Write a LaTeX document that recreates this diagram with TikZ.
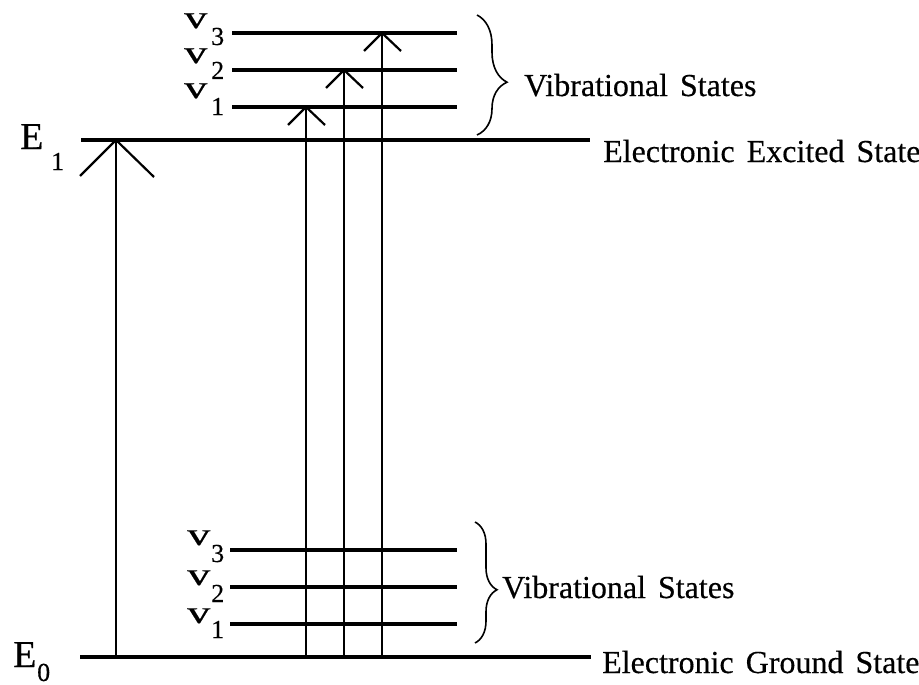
\documentclass[tikz,border=0pt]{standalone}
\usepackage{fontspec}
\usepackage{graphicx}
\setmainfont{Liberation Serif}[WordSpace=1.5, FakeBold=0.4]
\usetikzlibrary{decorations.pathreplacing}
\newcommand{\vsym}{\scalebox{1.45}[1]{v}}
\begin{document}
\begin{tikzpicture}[x=1pt,y=-1pt,
  level/.style={line width=3.6pt},
  shaft/.style={line width=1.7pt},
  barb/.style={line width=2.2pt},
  bracestyle/.style={line width=1.6pt, decorate},
  txt/.style={inner sep=0pt, anchor=base west, font=\fontsize{32}{36}\selectfont},
  bigE/.style={inner sep=0pt, anchor=base west, font=\fontsize{38}{40}\selectfont},
  subs/.style={inner sep=0pt, anchor=base west, font=\fontsize{26}{28}\selectfont},
  vlab/.style={inner sep=0pt, anchor=base west, font=\fontsize{32}{34}\selectfont},
]
\useasboundingbox (0,0) rectangle (919,685);

% electronic levels
\coordinate (e1l) at (81,140); \coordinate (e1r) at (590,140);
\coordinate (e0l) at (80,657); \coordinate (e0r) at (591,657);
\draw[level] (e1l) -- (e1r);
\draw[level] (e0l) -- (e0r);

% upper vibrational levels
\coordinate (uv3l) at (232,33);  \coordinate (uv3r) at (457,33);
\coordinate (uv2l) at (232,70);  \coordinate (uv2r) at (457,70);
\coordinate (uv1l) at (232,107); \coordinate (uv1r) at (457,107);
\draw[level] (uv3l) -- (uv3r);
\draw[level] (uv2l) -- (uv2r);
\draw[level] (uv1l) -- (uv1r);

% lower vibrational levels
\coordinate (lv3l) at (230,550); \coordinate (lv3r) at (457,550);
\coordinate (lv2l) at (230,587); \coordinate (lv2r) at (457,587);
\coordinate (lv1l) at (230,624); \coordinate (lv1r) at (457,624);
\draw[level] (lv3l) -- (lv3r);
\draw[level] (lv2l) -- (lv2r);
\draw[level] (lv1l) -- (lv1r);

% transitions
\coordinate (b0) at (116,657); \coordinate (t0) at (116,140);
\coordinate (b1) at (306,657); \coordinate (t1) at (306,107);
\coordinate (b2) at (344,657); \coordinate (t2) at (344,70);
\coordinate (b3) at (382,657); \coordinate (t3) at (382,33);
\draw[shaft] (b0) -- (t0);
\draw[shaft] (b1) -- (t1);
\draw[shaft] (b2) -- (t2);
\draw[shaft] (b3) -- (t3);
\draw[barb] (t0) ++(-36,36) -- (t0) -- ++(38,37);
\draw[barb] (t1) ++(-18,18) -- (t1) -- ++(19,18);
\draw[barb] (t2) ++(-18,18) -- (t2) -- ++(19,18);
\draw[barb] (t3) ++(-18,18) -- (t3) -- ++(19,18);

% braces
\draw[bracestyle, decoration={brace, amplitude=30pt, aspect=0.56}] (477,15) -- (477,135);
\draw[bracestyle, decoration={brace, amplitude=22pt, aspect=0.56}] (475,522) -- (475,643);

% labels
\node[bigE] (E1) at (20,149) {E};
\node[subs] (E1s) at (51,170) {1};
\node[bigE] (E0) at (13,667) {E};
\node[subs] (E0s) at (37,681) {0};

\node[vlab] (uv3) at (184,28) {\vsym};  \node[subs] (uv3s) at (211,45) {3};
\node[vlab] (uv2) at (184,63) {\vsym};  \node[subs] (uv2s) at (211,79) {2};
\node[vlab] (uv1) at (184,98) {\vsym};  \node[subs] (uv1s) at (211,115) {1};

\node[vlab] (lv3) at (187,545) {\vsym}; \node[subs] (lv3s) at (211,562) {3};
\node[vlab] (lv2) at (187,585) {\vsym}; \node[subs] (lv2s) at (211,602) {2};
\node[vlab] (lv1) at (187,623) {\vsym}; \node[subs] (lv1s) at (211,638) {1};

\node[txt] (vibU) at (524,96) {Vibrational States};
\node[txt] (vibL) at (502,598) {Vibrational States};
\node[txt] (exc) at (603,162) {Electronic Excited State};
\node[txt] (gnd) at (602,673) {Electronic Ground State};
\end{tikzpicture}
\end{document}
